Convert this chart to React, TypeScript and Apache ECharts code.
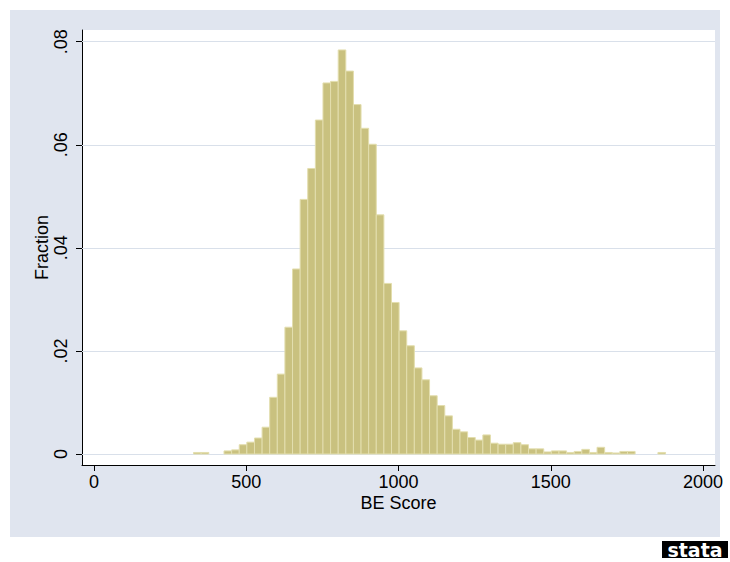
import React, { useEffect, useRef } from "react";
import * as echarts from "echarts";

// Histogram of BE Score: bins start at 327, each 25 wide
const BIN_START = 327;
const BIN_WIDTH = 25;
const fractions = [
  0.0003, 0.0003, 0, 0, 0.0006, 0.0008, 0.0018, 0.0023, 0.0031, 0.0052,
  0.011, 0.0155, 0.0246, 0.0359, 0.0494, 0.0554, 0.0648, 0.072, 0.0723, 0.0784,
  0.0743, 0.0678, 0.0632, 0.0601, 0.0464, 0.0331, 0.0294, 0.0239, 0.021, 0.0167,
  0.0144, 0.0113, 0.0094, 0.0074, 0.0048, 0.0043, 0.0032, 0.0027, 0.0037, 0.0021,
  0.0019, 0.0019, 0.0022, 0.0018, 0.001, 0.001, 0.0004, 0.0006, 0.0006, 0.0003,
  0.0005, 0.0009, 0.0003, 0.0013, 0.0003, 0.0002, 0.0005, 0.0005, 0, 0,
  0, 0.0003,
];
const xTicks = [0, 500, 1000, 1500, 2000];
const xTickLabels = ["0", "500", "1000", "1500", "2000"];
const yTicks = [0, 0.02, 0.04, 0.06, 0.08];
const yTickLabels = ["0", ".02", ".04", ".06", ".08"];
const xTitle = "BE Score";
const yTitle = "Fraction";

const FONT = "'Liberation Sans', Arial, Helvetica, sans-serif";

const pick = (ticks: number[], labels: string[]) => (v: number) => {
  const idx = ticks.findIndex((t) => Math.abs(t - v) < 1e-9);
  return idx >= 0 ? labels[idx] : "";
};

export default function App() {
  const ref = useRef<HTMLDivElement>(null);
  useEffect(() => {
    document.body.style.margin = "0";
    const chart = echarts.init(ref.current!, null, { renderer: "svg" });
    const data = fractions.map((f, i) => [
      BIN_START + i * BIN_WIDTH,
      BIN_START + (i + 1) * BIN_WIDTH,
      f,
    ]);
    chart.setOption({
      animation: false,
      backgroundColor: "#ffffff",
      textStyle: { fontFamily: FONT },
      graphic: [
        {
          type: "rect",
          z: -10,
          shape: { x: 10, y: 10, width: 710, height: 527 },
          style: { fill: "#e0e5ef" },
        },
        {
          type: "rect",
          shape: { x: 662, y: 541, width: 66, height: 17 },
          style: { fill: "#000000" },
        },
        {
          type: "text",
          x: 695,
          y: 549.5,
          style: {
            text: "stata",
            fill: "#ffffff",
            font: "bold 19px 'DejaVu Sans'",
            align: "center",
            verticalAlign: "middle",
          },
        },
      ],
      grid: {
        left: 82,
        top: 30,
        width: 633,
        height: 435,
        show: true,
        backgroundColor: "#ffffff",
        borderWidth: 0,
      },
      xAxis: {
        type: "value",
        min: -39.4,
        max: 2039.4,
        axisLine: { show: true, onZero: false, lineStyle: { color: "#000", width: 1 } },
        axisTick: { show: true, customValues: xTicks, length: 6, lineStyle: { color: "#000" } },
        axisLabel: {
          customValues: xTicks,
          color: "#000",
          fontSize: 18,
          margin: 8,
          fontFamily: FONT,
          formatter: pick(xTicks, xTickLabels),
        },
        splitLine: { show: false },
        name: xTitle,
        nameLocation: "middle",
        nameGap: 29,
        nameMoveOverlap: false,
        nameTextStyle: { color: "#000", fontSize: 18, fontFamily: FONT },
      },
      yAxis: {
        type: "value",
        min: -0.002134,
        max: 0.08227,
        axisLine: { show: true, onZero: false, lineStyle: { color: "#000", width: 1 } },
        axisTick: { show: true, customValues: yTicks, length: 6, lineStyle: { color: "#000" } },
        axisLabel: {
          customValues: yTicks,
          rotate: 90,
          color: "#000",
          fontSize: 18,
          margin: 12,
          fontFamily: FONT,
          formatter: pick(yTicks, yTickLabels),
        },
        splitLine: { show: false },
        name: yTitle,
        nameLocation: "middle",
        nameRotate: 90,
        nameGap: 31,
        nameMoveOverlap: false,
        nameTextStyle: { color: "#000", fontSize: 18, fontFamily: FONT },
      },
      series: [
        {
          type: "custom",
          data,
          encode: { x: [0, 1], y: 2 },
          renderItem: (params: any, api: any) => {
            const v = api.value(2);
            if (!v) return null;
            const p0 = api.coord([api.value(0), v]);
            const p1 = api.coord([api.value(1), 0]);
            return {
              type: "rect",
              shape: { x: p0[0], y: p0[1], width: p1[0] - p0[0], height: p1[1] - p0[1] },
              style: { fill: "#c9c17f", stroke: "#e3deae", lineWidth: 1 },
            };
          },
          markLine: {
            silent: true,
            symbol: "none",
            z: 1,
            label: { show: false },
            lineStyle: { color: "#d9e0ea", width: 1, type: "solid" },
            data: yTicks.map((v) => ({ yAxis: v })),
          },
        },
      ],
    });
    return () => chart.dispose();
  }, []);
  return <div ref={ref} style={{ width: 730, height: 562 }} />;
}
